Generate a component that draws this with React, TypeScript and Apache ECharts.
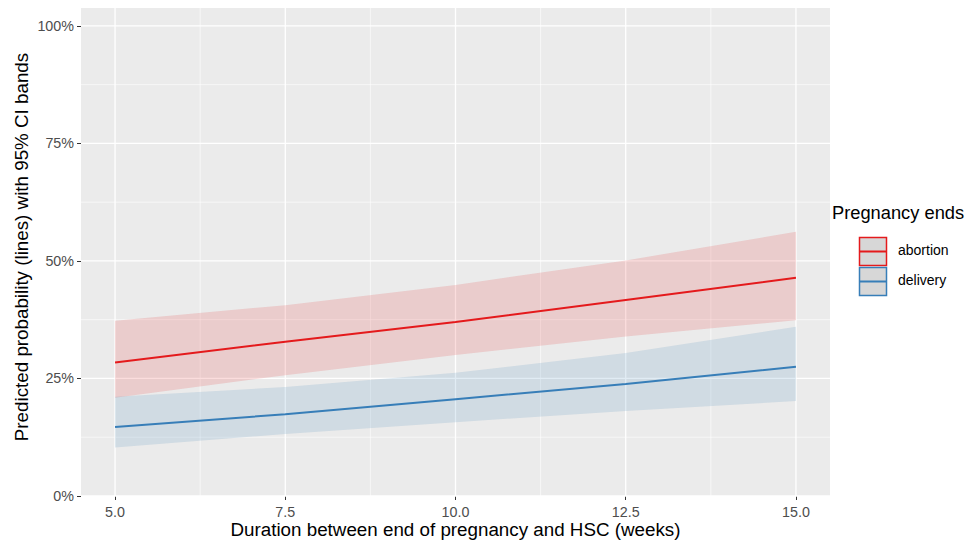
import React, { useEffect, useRef } from "react";
import * as echarts from "echarts";

const xVals = [5, 7.5, 10, 12.5, 15];
const abortionFit = [28.4, 32.8, 37.0, 41.7, 46.4];
const abortionLower = [20.9, 25.7, 30.0, 33.9, 37.4];
const abortionUpper = [37.3, 40.6, 44.9, 50.1, 56.2];
const deliveryFit = [14.7, 17.4, 20.6, 23.8, 27.5];
const deliveryLower = [10.3, 13.2, 15.7, 18.1, 20.2];
const deliveryUpper = [21.1, 23.2, 26.2, 30.4, 36.0];

const xTicks = [5, 7.5, 10, 12.5, 15];
const xMinor = [6.25, 8.75, 11.25, 13.75];
const yTicks = [0, 25, 50, 75, 100];
const yMinor = [12.5, 37.5, 62.5, 87.5];
const legendTitle = "Pregnancy ends";
const groups = ["abortion", "delivery"];

const X_MIN = 4.5;
const X_MAX = 15.5;
const Y_MIN = 0;
const Y_MAX = 103.8;

const RED = "#e41a1c";
const BLUE = "#377eb8";
const FONT = "Liberation Sans, Arial, Helvetica, sans-serif";

function bandSeries(name: string, lower: number[], upper: number[], fill: string) {
  return {
    type: "custom",
    name,
    z: 3,
    silent: true,
    data: xVals.map((x, i) => [x, lower[i], upper[i]]),
    encode: { x: 0, y: [1, 2] },
    renderItem: (params: any, api: any) => {
      if (params.dataIndex !== 0) return null;
      const top = xVals.map((x, i) => api.coord([x, upper[i]]));
      const bot = xVals.map((x, i) => api.coord([x, lower[i]])).reverse();
      return {
        type: "polygon",
        shape: { points: top.concat(bot) },
        style: { fill, stroke: "none" },
      };
    },
  };
}

function gridSeries(values: number[], vertical: boolean, width: number) {
  return {
    type: "custom",
    z: 1,
    silent: true,
    data: values.map((v) => (vertical ? [v, Y_MIN] : [X_MIN, v])),
    encode: { x: 0, y: 1 },
    renderItem: (params: any, api: any) => {
      const v = values[params.dataIndex];
      const p1 = vertical ? api.coord([v, Y_MIN]) : api.coord([X_MIN, v]);
      const p2 = vertical ? api.coord([v, Y_MAX]) : api.coord([X_MAX, v]);
      return {
        type: "line",
        shape: { x1: p1[0], y1: p1[1], x2: p2[0], y2: p2[1] },
        style: { stroke: "#ffffff", lineWidth: width },
      };
    },
  };
}

export default function App() {
  const ref = useRef<HTMLDivElement>(null);
  useEffect(() => {
    if (!ref.current) return;
    const chart = echarts.init(ref.current, undefined, { renderer: "svg" });
    const legendItems: any[] = [
      {
        type: "text",
        left: 832,
        top: 203,
        style: { text: legendTitle, fontSize: 18.3, fontFamily: FONT, fill: "#000" },
      },
    ];
    const cols = [RED, BLUE];
    groups.forEach((g, i) => {
      const y0 = 237 + i * 30;
      legendItems.push({
        type: "rect",
        shape: { x: 859.5, y: y0 + 0.5, width: 27, height: 28 },
        style: { fill: "#d7d7d7", stroke: cols[i], lineWidth: 1.5 },
      });
      legendItems.push({
        type: "line",
        shape: { x1: 860, y1: y0 + 14.5, x2: 887, y2: y0 + 14.5 },
        style: { stroke: cols[i], lineWidth: 2 },
      });
      legendItems.push({
        type: "text",
        left: 898,
        top: y0 + 6,
        style: { text: g, fontSize: 14, fontFamily: FONT, fill: "#000" },
      });
    });

    chart.setOption({
      animation: false,
      textStyle: { fontFamily: FONT },
      grid: {
        left: 81,
        right: 147,
        top: 8,
        bottom: 44,
        show: true,
        backgroundColor: "#ebebeb",
        borderWidth: 0,
        containLabel: false,
        outerBoundsMode: "none",
      },
      xAxis: {
        type: "value",
        min: X_MIN,
        max: X_MAX,
        name: "Duration between end of pregnancy and HSC (weeks)",
        nameLocation: "middle",
        nameGap: 24,
        nameMoveOverlap: false,
        nameTextStyle: { fontSize: 18.8, color: "#000", fontFamily: FONT },
        axisLine: { show: false },
        axisTick: { show: true, length: 4, lineStyle: { color: "#333", width: 1 }, customValues: xTicks },
        axisLabel: {
          customValues: xTicks,
          formatter: (v: number) => v.toFixed(1),
          fontSize: 14.3,
          color: "#4d4d4d",
          margin: 9,
          fontFamily: FONT,
        },
        splitLine: { show: false },
      },
      yAxis: {
        type: "value",
        min: Y_MIN,
        max: Y_MAX,
        name: "Predicted probability (lines) with 95% CI bands",
        nameLocation: "middle",
        nameGap: 50,
        nameMoveOverlap: false,
        nameRotate: 90,
        nameTextStyle: { fontSize: 18.8, color: "#000", fontFamily: FONT, padding: [0, 0, 0, 10] },
        axisLine: { show: false },
        axisTick: { show: true, length: 4, lineStyle: { color: "#333", width: 1 }, customValues: yTicks },
        axisLabel: {
          customValues: yTicks,
          formatter: (v: number) => v + "%",
          fontSize: 14.3,
          color: "#4d4d4d",
          margin: 7,
          fontFamily: FONT,
        },
        splitLine: { show: false },
      },
      graphic: legendItems,
      series: [
        gridSeries(xMinor, true, 0.6),
        gridSeries(yMinor, false, 0.6),
        gridSeries(xTicks, true, 1.3),
        gridSeries(yTicks, false, 1.3),
        bandSeries("abortion band", abortionLower, abortionUpper, "rgba(228,26,28,0.15)"),
        bandSeries("delivery band", deliveryLower, deliveryUpper, "rgba(55,126,184,0.15)"),
        {
          type: "line",
          name: "abortion",
          z: 5,
          data: xVals.map((x, i) => [x, abortionFit[i]]),
          showSymbol: false,
          lineStyle: { color: RED, width: 2 },
          itemStyle: { color: RED },
        },
        {
          type: "line",
          name: "delivery",
          z: 5,
          data: xVals.map((x, i) => [x, deliveryFit[i]]),
          showSymbol: false,
          lineStyle: { color: BLUE, width: 2 },
          itemStyle: { color: BLUE },
        },
      ],
    });
    return () => chart.dispose();
  }, []);
  return <div ref={ref} style={{ width: 977, height: 540, position: "absolute", left: 0, top: 0 }} />;
}
